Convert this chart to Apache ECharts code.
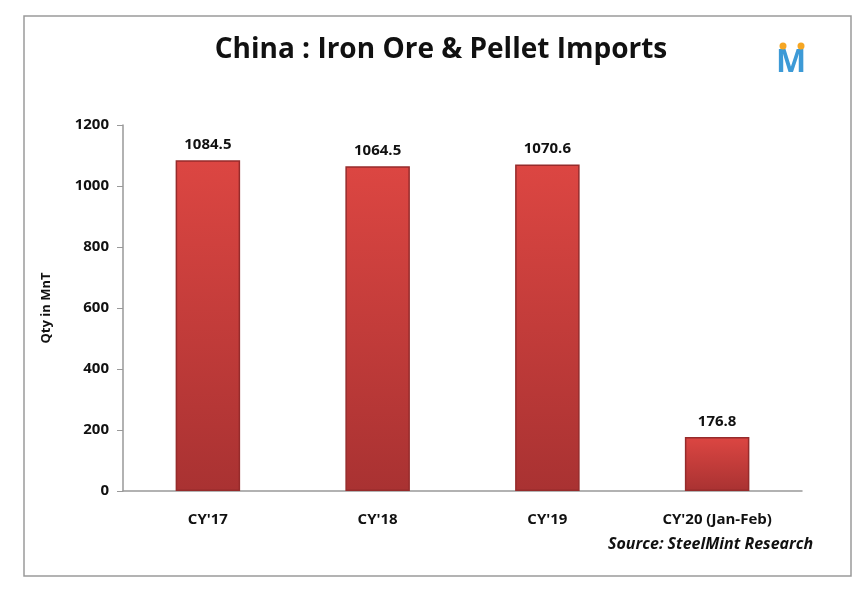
<!DOCTYPE html>
<html><head><meta charset="utf-8">
<script src="https://cdn.jsdelivr.net/npm/echarts@6/dist/echarts.min.js"></script>
<style>html,body{margin:0;padding:0;background:#fff}#c{width:867px;height:589px}</style>
</head><body><div id="c"></div>
<script>
const categories = ["CY'17", "CY'18", "CY'19", "CY'20 (Jan-Feb)"];
const imports = [1084.5, 1064.5, 1070.6, 176.8];
const yTicks = [0, 200, 400, 600, 800, 1000, 1200];

const font = "'Open Sans', 'Noto Sans', sans-serif";
const chart = echarts.init(document.getElementById('c'));
chart.setOption({
  animation: false,
  backgroundColor: '#fff',
  title: {
    text: 'China : Iron Ore & Pellet Imports',
    left: 436, top: 31, textAlign: 'center',
    textStyle: { fontFamily: font, fontSize: 28, fontWeight: 'bold', color: '#111' }
  },
  grid: { left: 123, right: 65, top: 125, bottom: 98 },
  xAxis: {
    type: 'category', data: categories,
    axisLine: { lineStyle: { color: '#999', width: 1.5 } },
    axisTick: { show: false },
    axisLabel: { margin: 21, fontFamily: font, fontSize: 15, fontWeight: 'bold', color: '#111' }
  },
  yAxis: {
    type: 'value', min: yTicks[0], max: yTicks[yTicks.length - 1], interval: 200,
    name: 'Qty in MnT', nameLocation: 'middle', nameGap: 70, nameRotate: 90,
    nameTextStyle: { fontFamily: font, fontSize: 13, fontWeight: 'bold', color: '#111' },
    axisLine: { show: true, lineStyle: { color: '#999', width: 1.5 } },
    axisTick: { show: true, length: 6, lineStyle: { color: '#999' } },
    splitLine: { show: false },
    axisLabel: { margin: 14, fontFamily: font, fontSize: 15, fontWeight: 'bold', color: '#111', formatter: v => String(v) }
  },
  series: [{
    type: 'bar', data: imports, barWidth: '38%',
    itemStyle: {
      color: new echarts.graphic.LinearGradient(0, 0, 0, 1, [
        { offset: 0, color: '#dc4642' },
        { offset: 1, color: '#a93232' }
      ]),
      borderColor: '#962b2b', borderWidth: 1.5
    },
    label: {
      show: true, position: 'top', distance: 8,
      formatter: p => p.value.toFixed(1),
      fontFamily: font, fontSize: 15, fontWeight: 'bold', color: '#111'
    }
  }],
  graphic: [
    { type: 'rect', shape: { x: 24, y: 16, width: 827, height: 560 }, style: { fill: 'none', stroke: '#9a9a9a', lineWidth: 1.5 }, z: -1 },
    { type: 'text', left: 608, top: 536, style: { text: 'Source: SteelMint Research', font: "italic bold 16px 'Open Sans', sans-serif", fill: '#111' } },
    { type: 'text', left: 776, top: 47, style: { text: 'M', font: "bold 32px 'Open Sans', sans-serif", fill: '#3d9ad6' } },
    { type: 'circle', shape: { cx: 783, cy: 46, r: 3.5 }, style: { fill: '#f5a623' } },
    { type: 'circle', shape: { cx: 801, cy: 46, r: 3.5 }, style: { fill: '#f5a623' } }
  ]
});
</script></body></html>
